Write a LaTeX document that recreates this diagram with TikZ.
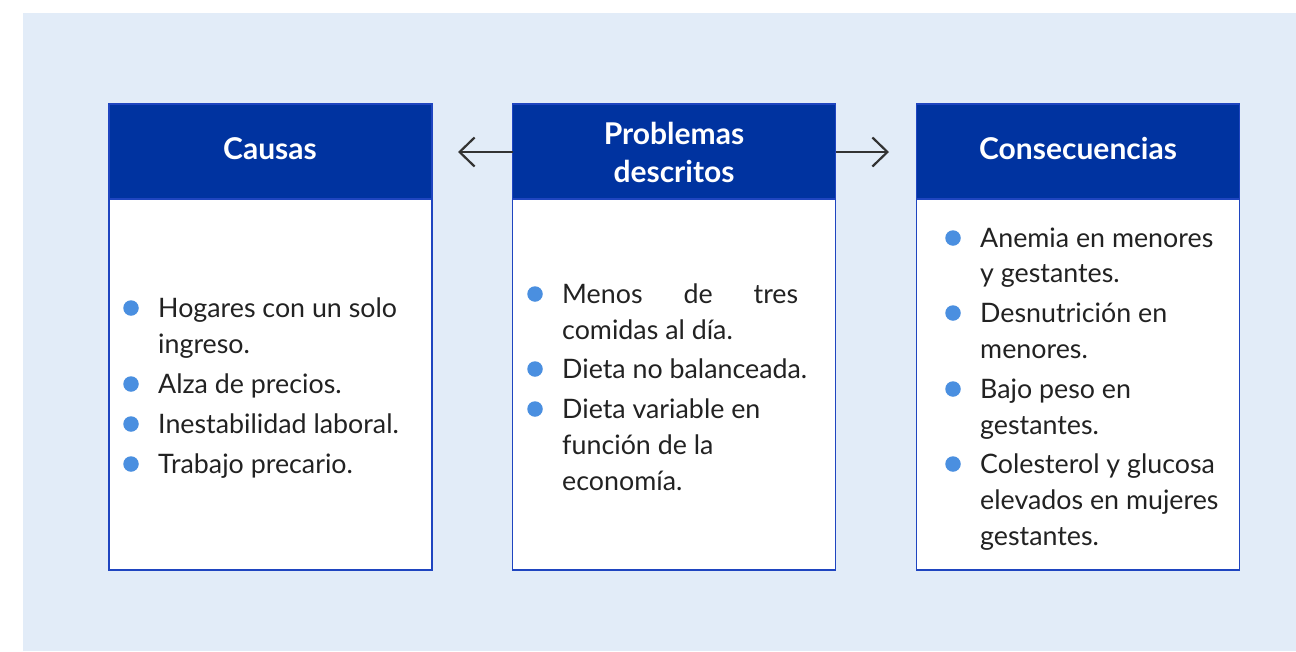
\documentclass[tikz,border=0pt]{standalone}
\usepackage{fontspec}
\setmainfont{Lato}
\usetikzlibrary{arrows.meta}
\definecolor{bg}{HTML}{E2ECF8}
\definecolor{hdr}{HTML}{0033A0}
\definecolor{edge}{HTML}{1F45C0}
\definecolor{dotc}{HTML}{4A8FE0}
\definecolor{txt}{HTML}{222222}
\definecolor{arr}{HTML}{333333}
\begin{document}
\begin{tikzpicture}[x=1pt,y=-1pt,
  body/.style={draw=edge, line width=1.3pt, fill=white, minimum width=323pt, minimum height=466pt, anchor=north west, inner sep=0pt, outer sep=0pt},
  hdrbox/.style={fill=hdr, draw=edge, line width=1.3pt, minimum width=323pt, minimum height=95pt, anchor=north west, inner sep=0pt, outer sep=0pt},
  htext/.style={text=white, font=\fontsize{30}{38}\bfseries\selectfont, anchor=base, inner sep=0pt},
  ltext/.style={text=txt, font=\fontsize{26.8}{36}\selectfont, anchor=base west, inner sep=0pt},
  dot/.style={circle, fill=dotc, minimum size=15.5pt, inner sep=0pt},
  conn/.style={draw=arr, line width=2.2pt, -{Straight Barb[length=15pt,width=29pt]}}
]
\useasboundingbox (0,0) rectangle (1296,651);
\fill[bg] (23,13) rectangle (1296,651);

% boxes
\node[body] (cb) at (109,104) {};
\node[body] (pb) at (512.5,104) {};
\node[body] (kb) at (916.5,104) {};
\node[hdrbox] (ch) at (109,104) {};
\node[hdrbox] (ph) at (512.5,104) {};
\node[hdrbox] (kh) at (916.5,104) {};

% headers
\node[htext] (cht) at (270,159) {Causas};
\node[htext] (pht1) at (674,144) {Problemas};
\node[htext] (pht2) at (674,182) {descritos};
\node[htext] (kht) at (1078,159) {Consecuencias};

% arrows
\coordinate (la) at (458,152);
\coordinate (ra) at (889,152);
\draw[conn] (ph.west |- la) -- (la);
\draw[conn] (ph.east |- ra) -- (ra);

% Causas
\node[dot] (cd1) at (131,308) {};
\node[dot] (cd2) at (131,384) {};
\node[dot] (cd3) at (131,424) {};
\node[dot] (cd4) at (131,464) {};
\node[ltext] (c1a) at (158,317) {Hogares con un solo};
\node[ltext] (c1b) at (158,353) {ingreso.};
\node[ltext] (c2) at (158,393) {Alza de precios.};
\node[ltext] (c3) at (158,433) {Inestabilidad laboral.};
\node[ltext] (c4) at (158,473) {Trabajo precario.};

% Problemas
\node[dot] (pd1) at (535,294) {};
\node[dot] (pd2) at (535,369) {};
\node[dot] (pd3) at (535,409) {};
\node[ltext] (p1a) at (562,303) {\makebox[236pt][s]{Menos de tres}};
\node[ltext] (p1b) at (562,339) {comidas al día.};
\node[ltext] (p2) at (562,378) {Dieta no balanceada.};
\node[ltext] (p3a) at (562,418) {Dieta variable en};
\node[ltext] (p3b) at (562,454) {función de la};
\node[ltext] (p3c) at (562,490) {economía.};

% Consecuencias
\node[dot] (kd1) at (953,238) {};
\node[dot] (kd2) at (953,313) {};
\node[dot] (kd3) at (953,389) {};
\node[dot] (kd4) at (953,464) {};
\node[ltext] (k1a) at (980,247) {Anemia en menores};
\node[ltext] (k1b) at (980,282) {y gestantes.};
\node[ltext] (k2a) at (980,322) {Desnutrición en};
\node[ltext] (k2b) at (980,358) {menores.};
\node[ltext] (k3a) at (980,398) {Bajo peso en};
\node[ltext] (k3b) at (980,434) {gestantes.};
\node[ltext] (k4a) at (980,473) {Colesterol y glucosa};
\node[ltext] (k4b) at (980,509) {elevados en mujeres};
\node[ltext] (k4c) at (980,545) {gestantes.};
\end{tikzpicture}
\end{document}
